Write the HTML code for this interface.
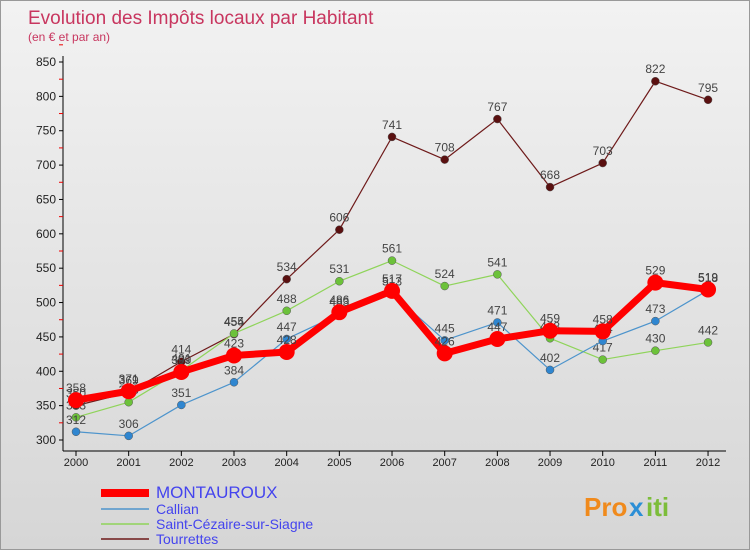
<!DOCTYPE html>
<html><head><meta charset="utf-8"><style>
body{margin:0;width:750px;height:550px;overflow:hidden;font-family:"Liberation Sans",sans-serif}
#c{position:absolute;left:0;top:0;width:748px;height:548px;border:1px solid #999;background:linear-gradient(#f2f2f2,#d6d6d6)}
</style></head><body>
<div id="c">
<svg id="s" width="750" height="550" style="position:absolute;left:0;top:0">
<text x="27" y="23" font-size="19" fill="#c8365f">Evolution des Impôts locaux par Habitant</text>
<text x="27" y="40" font-size="12" fill="#c8365f">(en € et par an)</text>
<g id="axes"></g><g id="series"></g><g id="legend"></g>
<g font-size="26" font-weight="bold"><text x="583" y="515" fill="#f08a1c">Pro</text><text x="628" y="515" fill="#2c8fd6">x</text><text x="645" y="515" fill="#7cbd3a">iti</text></g>
</svg></div>
<script>
const years=["2000","2001","2002","2003","2004","2005","2006","2007","2008","2009","2010","2011","2012"];
const yTicks=[300,350,400,450,500,550,600,650,700,750,800,850];
const montauroux=[358,371,399,423,428,486,517,426,447,459,458,529,519];
const callian=[312,306,351,384,447,483,513,445,471,402,444,473,518];
const stCezaire=[333,355,401,455,488,531,561,524,541,448,417,430,442];
const tourrettes=[350,369,414,454,534,606,741,708,767,668,703,822,795];
const NS="http://www.w3.org/2000/svg";
const x=i=>75+i*52.67, y=v=>439-(v-300)*378/550;
function mk(t,a,p){const e=document.createElementNS(NS,t);for(const k in a)e.setAttribute(k,a[k]);p.appendChild(e);return e;}
const ax=document.getElementById('axes');
let l=mk('line',{x1:62,y1:55,x2:62,y2:450,stroke:'#000'},ax);


l=mk('line',{x1:62,y1:450,x2:725,y2:450,stroke:'#000'},ax);


yTicks.forEach(v=>{mk('line',{x1:58,y1:y(v),x2:62,y2:y(v),stroke:'#000'},ax);
mk('line',{x1:58,y1:y(v+25),x2:62,y2:y(v+25),stroke:'#e00'},ax);
const t=mk('text',{x:55,y:y(v)+4,'font-size':12,'text-anchor':'end',fill:'#222'},ax);t.textContent=v;

});
years.forEach((yr,i)=>{mk('line',{x1:x(i),y1:450,x2:x(i),y2:455,stroke:'#000'},ax);
const t=mk('text',{x:x(i),y:465,'font-size':11,'text-anchor':'middle',fill:'#222'},ax);t.textContent=yr;

});
const S=[[tourrettes,'#6e1a1a','#5a1010',1.2,4,'tourrettes'],[stCezaire,'#8fd45a','#6cc23a',1.2,4,'saint-cezaire'],[callian,'#4d94cc','#2f86d0',1.2,4,'callian'],[montauroux,'#f00','#f00',7,8,'montauroux']];
const sg=document.getElementById('series');
S.forEach(([d,c,fc,w,r,n])=>{const g=mk('g',{},sg);


mk('polyline',{points:d.map((v,i)=>x(i)+','+y(v)).join(' '),fill:'none',stroke:c,'stroke-width':w,'stroke-linejoin':'round'},g);
d.forEach((v,i)=>{const p=mk('circle',{cx:x(i),cy:y(v),r:r,fill:fc,stroke:n=='montauroux'?'none':'#555','stroke-width':0.5},g);


const t=mk('text',{x:x(i),y:y(v)-8,'font-size':12,'text-anchor':'middle',fill:'#444'},g);t.textContent=v;

});});
const lg=document.getElementById('legend');
const L=[['MONTAUROUX','#f00',8,15],['Callian','#4d94cc',1.5,12],['Saint-Cézaire-sur-Siagne','#8fd45a',1.5,12],['Tourrettes','#6e1a1a',1.5,12]];
L.forEach(([n,c,w,fs],i)=>{const yy=[492,508,523,538][i];const g=mk('g',{},lg);


mk('line',{x1:100,y1:yy,x2:148,y2:yy,stroke:c,'stroke-width':w},g);
const t=mk('text',{x:155,y:yy+5,'font-size':fs+2,fill:'#4444ee'},g);t.textContent=n;});
</script></body></html>
